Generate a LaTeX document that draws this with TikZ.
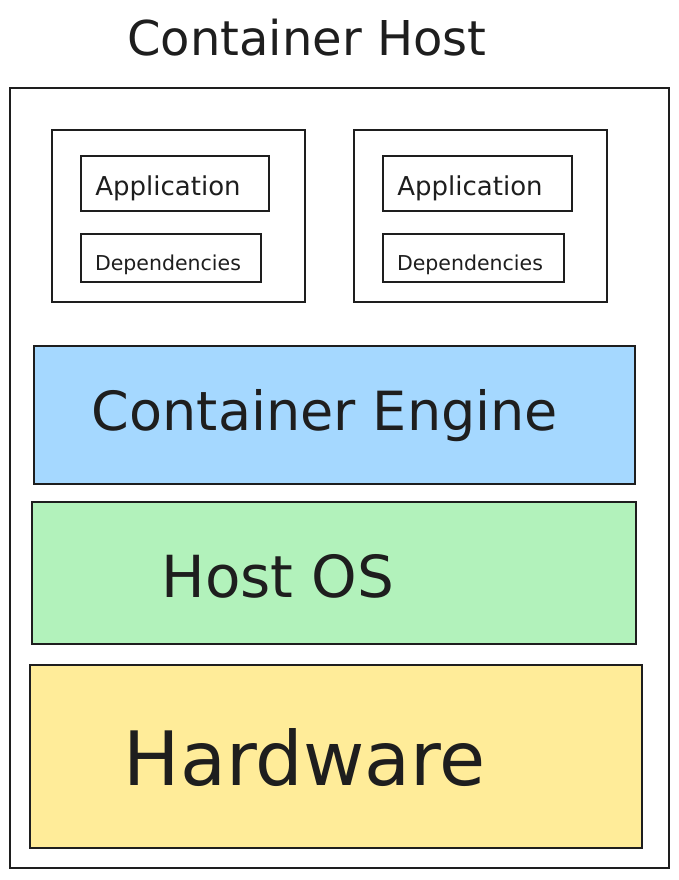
\documentclass[tikz,border=0pt]{standalone}
\usepackage{fontspec}
\setmainfont{DejaVu Sans}
\definecolor{ink}{HTML}{1E1E1E}
\definecolor{engblue}{HTML}{A5D8FF}
\definecolor{osgreen}{HTML}{B2F2BB}
\definecolor{hwyellow}{HTML}{FFEC99}
\begin{document}
\begin{tikzpicture}[x=1pt,y=-1pt,
  box/.style={draw=ink, line width=2.2pt, inner sep=0pt, rectangle},
  thinbox/.style={draw=ink, line width=1.8pt, inner sep=0pt, rectangle},
  label/.style={text=ink, inner sep=0pt, anchor=base}]
\useasboundingbox (0,0) rectangle (679,880);
\fill[white] (0,0) rectangle (679,880);
% outer host
\node[box, minimum width=659pt, minimum height=780pt] (host) at (339.5,478) {};
\node[label, font=\fontsize{48}{58}\selectfont] (title) at (307,56) {Container Host};
% containers
\node[thinbox, minimum width=253pt, minimum height=172pt] (c1) at (178.5,216) {};
\node[thinbox, minimum width=253pt, minimum height=172pt] (c2) at (480.5,216) {};
\node[thinbox, minimum width=188pt, minimum height=55pt] (app1) at (175,183.5) {};
\node[thinbox, minimum width=180pt, minimum height=48pt] (dep1) at (171,258) {};
\node[thinbox, minimum width=189pt, minimum height=55pt] (app2) at (477.5,183.5) {};
\node[thinbox, minimum width=181pt, minimum height=48pt] (dep2) at (473.5,258) {};
\node[label, font=\fontsize{26}{31}\selectfont] (app1t) at (168,195) {Application};
\node[label, font=\fontsize{26}{31}\selectfont] (app2t) at (470,195) {Application};
\node[label, font=\fontsize{20.5}{25}\selectfont] (dep1t) at (168,270) {Dependencies};
\node[label, font=\fontsize{20.5}{25}\selectfont] (dep2t) at (470,270) {Dependencies};
% layers
\node[box, fill=engblue, minimum width=601pt, minimum height=138pt] (engine) at (334.5,415) {};
\node[label, font=\fontsize{54}{64}\selectfont] (enginet) at (325,430) {Container Engine};
\node[box, fill=osgreen, minimum width=604pt, minimum height=142pt] (os) at (334,573) {};
\node[label, font=\fontsize{58}{68}\selectfont] (ost) at (278,597) {Host OS};
\node[box, fill=hwyellow, minimum width=612pt, minimum height=183pt] (hw) at (336,756.5) {};
\node[label, font=\fontsize{75}{88}\selectfont] (hwt) at (305,785) {Hardware};
\end{tikzpicture}
\end{document}
